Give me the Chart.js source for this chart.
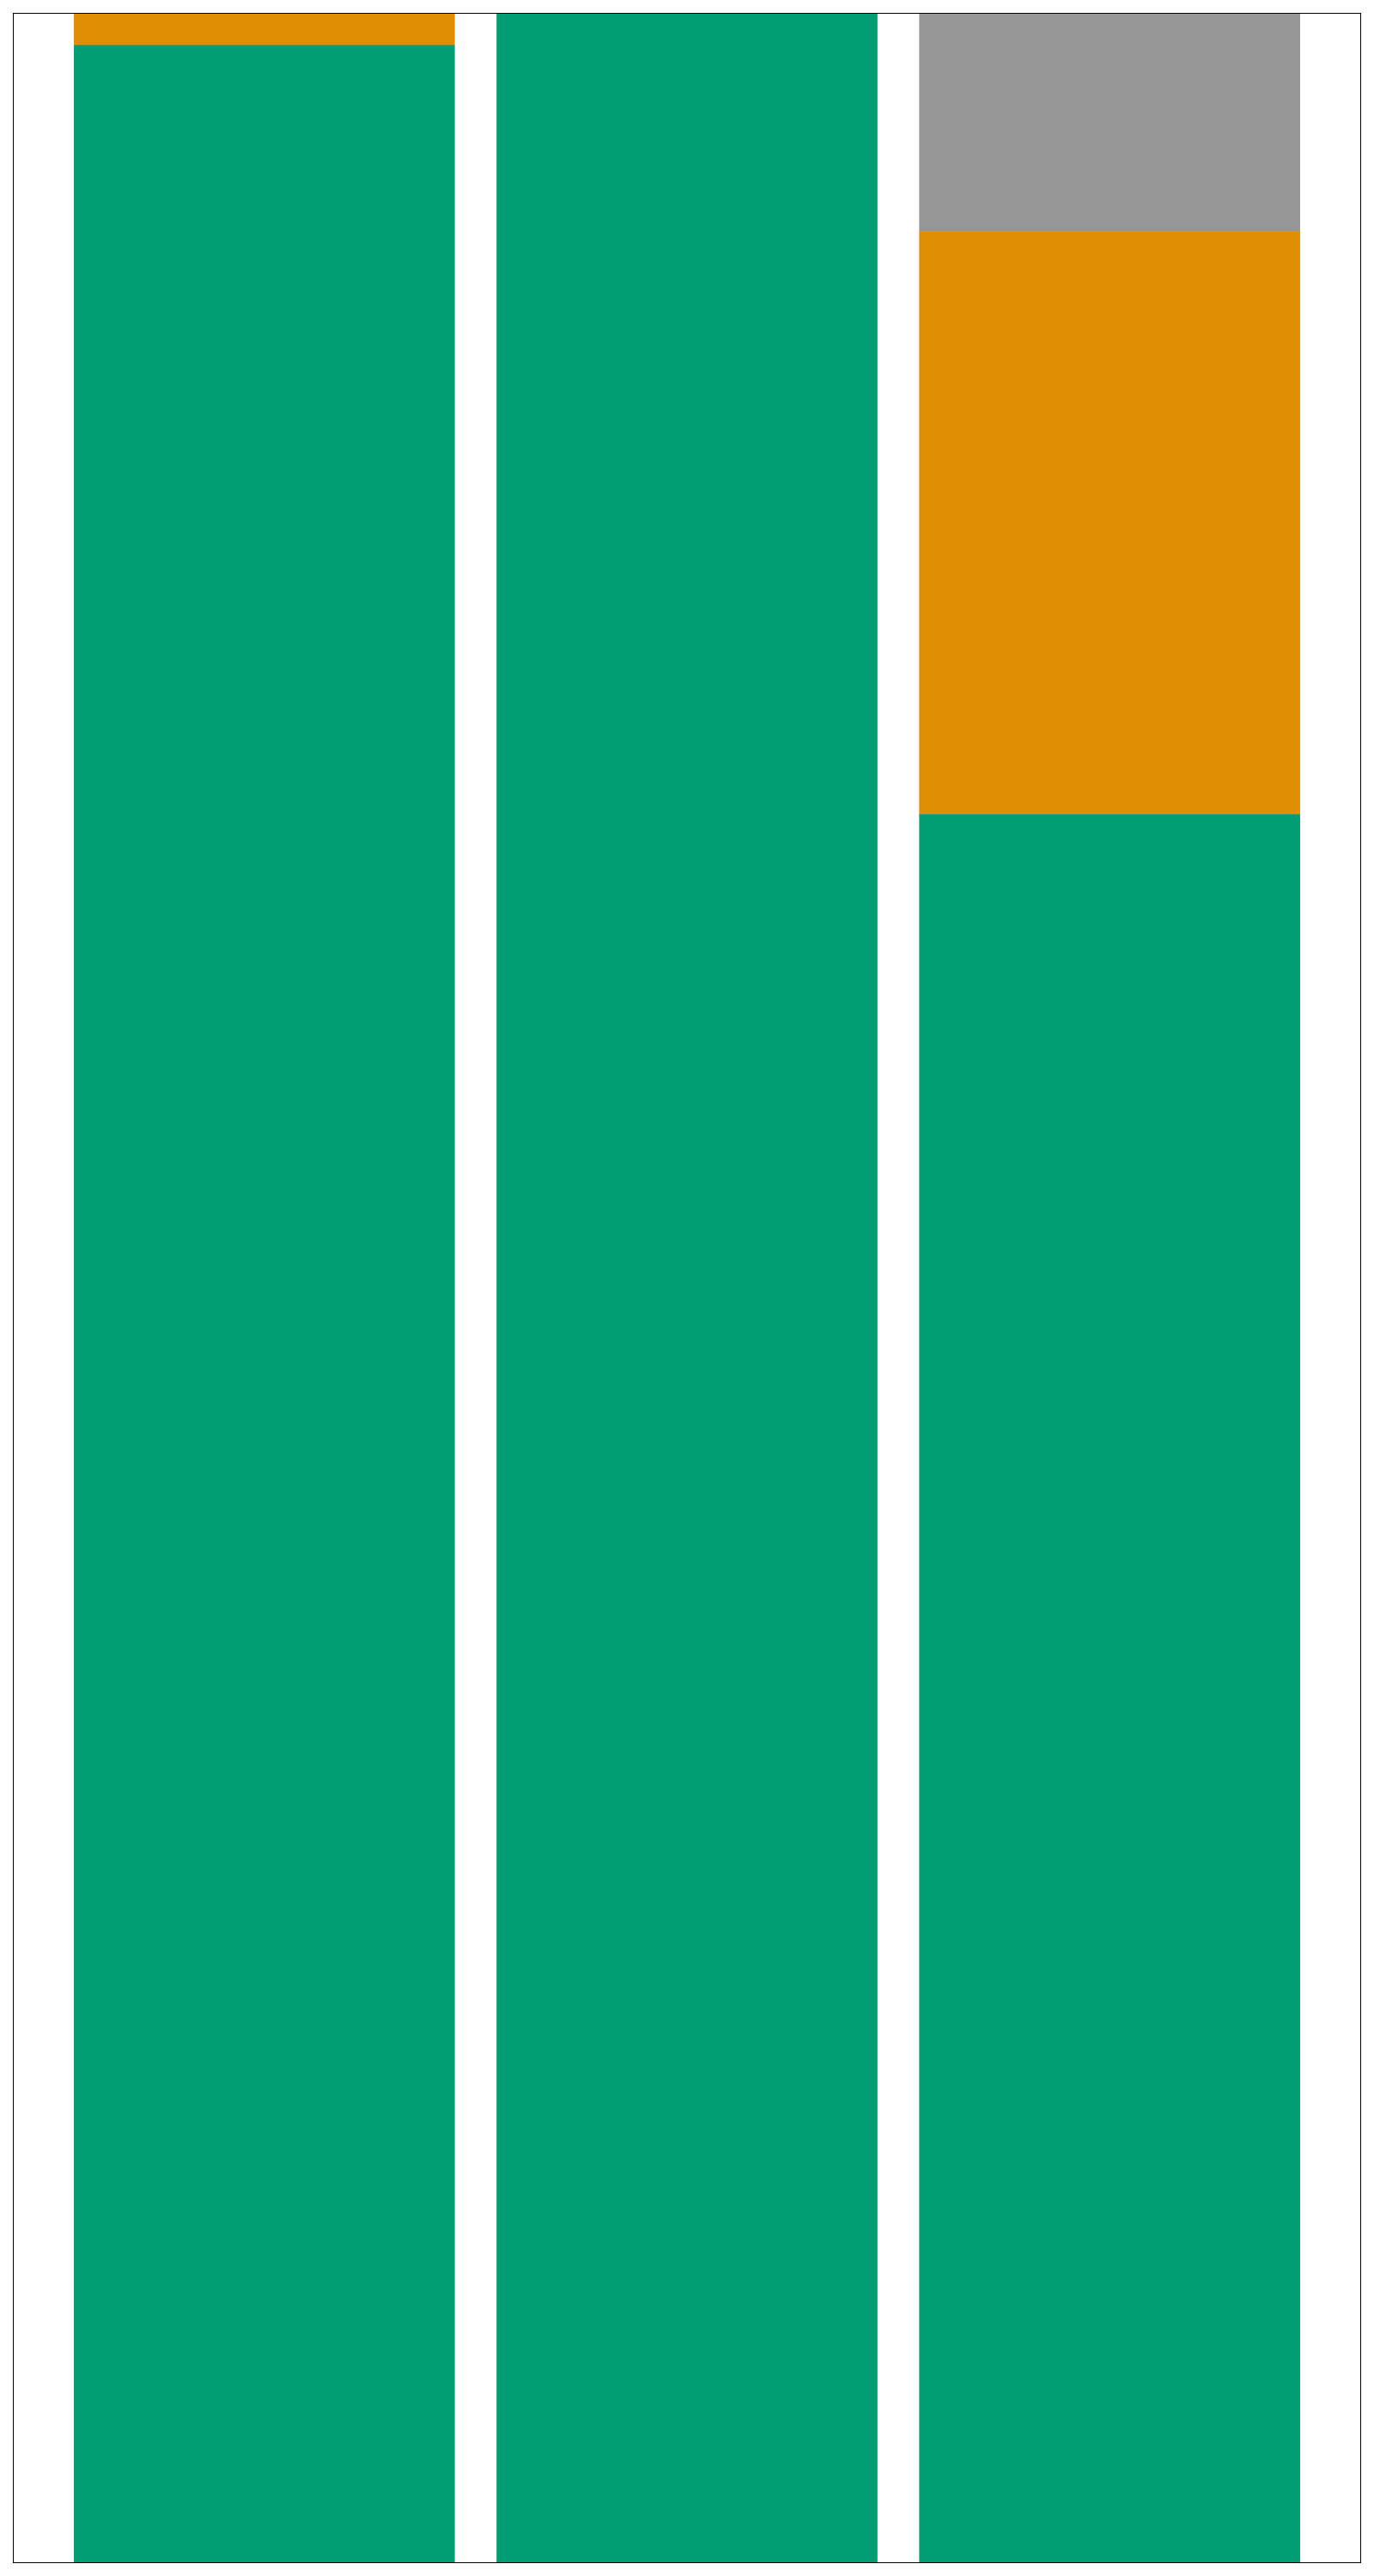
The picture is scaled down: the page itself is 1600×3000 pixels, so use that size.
<!DOCTYPE html>
<html>
<head>
<meta charset="utf-8">
<script src="https://cdn.jsdelivr.net/npm/chart.js@4"></script>
<style>
html,body{margin:0;padding:0;background:#fff;}
canvas{display:block;}
</style>
</head>
<body>
<canvas id="c" width="1600" height="3000"></canvas>
<script>
const categories = ['1', '2', '3'];
const greenValues = [0.9873, 1.0, 0.6857];
const orangeValues = [0.0127, 0.0, 0.2286];
const grayValues = [0.0, 0.0, 0.0857];

const toPoints = vals => vals.map((v, i) => ({ x: i + 1, y: v }));

const frame = {
  id: 'frame',
  afterDraw(chart) {
    const { ctx, chartArea: a } = chart;
    ctx.save();
    ctx.strokeStyle = '#000';
    ctx.lineWidth = 1;
    ctx.strokeRect(Math.round(a.left) + 0.5, Math.round(a.top) + 0.5,
                   Math.round(a.right - a.left) - 1, Math.round(a.bottom - a.top) - 1);
    ctx.restore();
  }
};

new Chart(document.getElementById('c'), {
  type: 'bar',
  data: {
    datasets: [
      { label: 'green', data: toPoints(greenValues), backgroundColor: '#029E73' },
      { label: 'orange', data: toPoints(orangeValues), backgroundColor: '#E08E04' },
      { label: 'gray', data: toPoints(grayValues), backgroundColor: '#969696' }
    ]
  },
  options: {
    responsive: false,
    animation: false,
    devicePixelRatio: 1,
    layout: { padding: { left: 15, top: 15, right: 15, bottom: 15 } },
    plugins: { legend: { display: false }, tooltip: { enabled: false } },
    datasets: { bar: { barThickness: 'flex', barPercentage: 0.9, categoryPercentage: 1.0, borderWidth: 0 } },
    scales: {
      x: { type: 'linear', offset: false, stacked: true, min: 0.405, max: 3.595, display: false },
      y: { stacked: true, min: 0, max: 1, display: false }
    }
  },
  plugins: [frame]
});
</script>
</body>
</html>
